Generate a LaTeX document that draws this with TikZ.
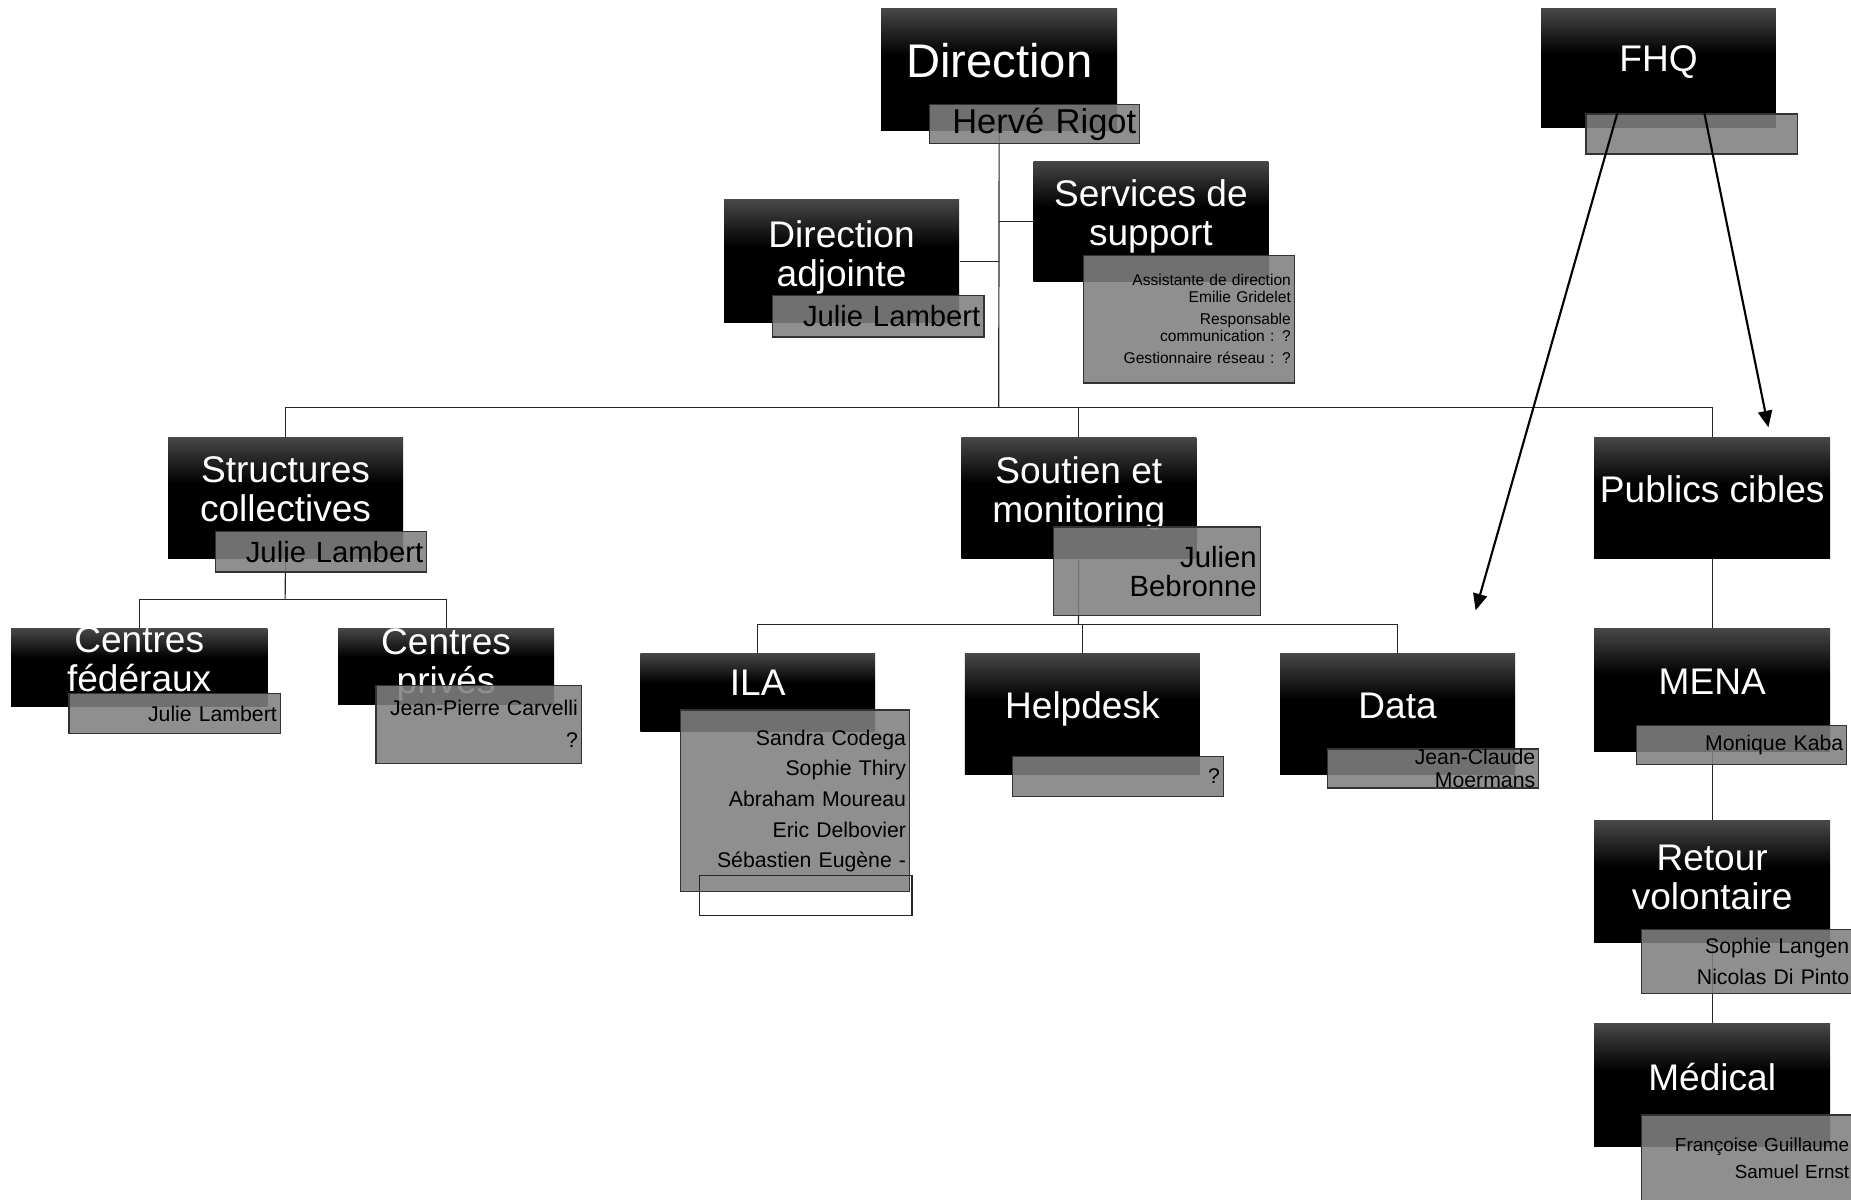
\documentclass[tikz,border=0pt]{standalone}
\usepackage{fontspec}
\setmainfont{Liberation Sans}
\usetikzlibrary{arrows.meta,backgrounds,calc}

\pgfdeclareverticalshading{unitshade}{100bp}{color(0bp)=(black); color(25bp)=(black); color(56bp)=(black); color(75bp)=(black!72); color(100bp)=(black!72)}

\tikzset{
  unit/.style={rectangle, anchor=north west, inner sep=0pt, shade, shading=unitshade},
  title/.style={text=white, align=center, inner sep=0pt, yshift=3.6pt, font=\fontsize{15.7}{16.5}\selectfont},
  who/.style={rectangle, anchor=north west, draw=black!80, line width=0.5pt, fill=gray, fill opacity=0.88, text opacity=1, text=black, inner xsep=1.5pt, inner ysep=0pt, align=right},
  link/.style={line width=0.5pt, black!85},
  fhqarrow/.style={line width=0.9pt, -{Triangle[length=7pt,width=6pt]}},
}

\begin{document}
\begin{tikzpicture}[x=0.5pt,y=-0.5pt]
  \useasboundingbox (0,0) rectangle (1568,1016);

  % top level
  \node[unit, minimum width=100pt, minimum height=51.5pt] (dir) at (746,7) {};
  \node[title, font=\fontsize{20}{22}\selectfont] (dirT) at (dir) {Direction};
  \node[who, text width=86pt, minimum height=16.5pt, font=\fontsize{14.6}{16}\selectfont] (dirN) at (787,88) {Hervé Rigot};

  \node[unit, minimum width=99.5pt, minimum height=50.5pt] (fhq) at (1305,7) {};
  \node[title, yshift=-1pt] (fhqT) at (fhq) {FHQ};
  \node[who, text width=86.5pt, minimum height=17pt] (fhqN) at (1343,96) {};

  \node[unit, minimum width=99.5pt, minimum height=52pt] (adj) at (613,169) {};
  \node[title, yshift=-1.8pt] (adjT) at (adj) {Direction\\adjointe};
  \node[who, text width=86.5pt, minimum height=17.5pt, font=\fontsize{12.4}{14}\selectfont] (adjN) at (654,250) {Julie Lambert};

  \node[unit, minimum width=99.5pt, minimum height=51pt] (supp) at (875,136) {};
  \node[title, yshift=-1.5pt] (suppT) at (supp) {Services de\\support};
  \node[who, text width=86.5pt, minimum height=54pt, font=\fontsize{6.6}{7}\selectfont] (suppN) at (917,216) {Assistante de direction\\Emilie Gridelet\\[2.5pt]Responsable\\communication : ?\\[2.5pt]Gestionnaire réseau : ?};

  % second level
  \node[unit, minimum width=99.5pt, minimum height=51.5pt] (struct) at (142,370) {};
  \node[title] (structT) at (struct) {Structures\\collectives};
  \node[who, text width=86.5pt, minimum height=17pt, font=\fontsize{12.4}{14}\selectfont] (structN) at (182,450) {Julie Lambert};

  \node[unit, minimum width=99.5pt, minimum height=51.5pt] (sout) at (814,370) {};
  \node[title, yshift=-1.5pt] (soutT) at (sout) {Soutien et\\monitoring};
  \node[who, text width=84.5pt, minimum height=37.5pt, font=\fontsize{12.4}{12.5}\selectfont] (soutN) at (892,446) {Julien\\Bebronne};

  \node[unit, minimum width=100pt, minimum height=51.5pt] (pub) at (1350,370) {};
  \node[title] (pubT) at (pub) {Publics cibles};

  % under Structures collectives
  \node[unit, minimum width=108.5pt, minimum height=33pt] (cfed) at (9,532) {};
  \node[title] (cfedT) at (cfed) {Centres\\fédéraux};
  \node[who, text width=86.5pt, minimum height=17pt, font=\fontsize{9}{13}\selectfont] (cfedN) at (58,587) {Julie Lambert};

  \node[unit, minimum width=91.5pt, minimum height=32pt] (cpriv) at (286,532) {};
  \node[title, yshift=-3pt] (cprivT) at (cpriv) {Centres\\privés};
  \node[who, text width=84pt, minimum height=33pt, font=\fontsize{9}{13.5}\selectfont] (cprivN) at (318,580) {Jean-Pierre Carvelli\\?};

  % under Soutien et monitoring
  \node[unit, minimum width=99.5pt, minimum height=33pt] (ila) at (542,553) {};
  \node[title, yshift=0.4pt] (ilaT) at (ila) {ILA};
  \node[who, text width=94pt, minimum height=77pt, font=\fontsize{9}{13}\selectfont] (ilaN) at (576,601) {Sandra Codega\\Sophie Thiry\\Abraham Moureau\\Eric Delbovier\\Sébastien Eugène -};
  \node[rectangle, anchor=north west, draw=black!85, line width=0.5pt, inner sep=0pt, minimum width=90pt, minimum height=17pt] (ilaX) at (592,741) {};

  \node[unit, minimum width=99.5pt, minimum height=51.5pt] (help) at (817,553) {};
  \node[title, yshift=-1.3pt] (helpT) at (help) {Helpdesk};
  \node[who, text width=86.5pt, minimum height=17pt, font=\fontsize{9}{13}\selectfont] (helpN) at (857,640) {?};

  \node[unit, minimum width=99.5pt, minimum height=51.5pt] (data) at (1084,553) {};
  \node[title] (dataT) at (data) {Data};
  \node[who, text width=86.5pt, minimum height=16.5pt, font=\fontsize{9}{9.5}\selectfont] (dataN) at (1124,634) {Jean-Claude\\Moermans};

  % under Publics cibles
  \node[unit, minimum width=100pt, minimum height=52pt] (mena) at (1350,532) {};
  \node[title] (menaT) at (mena) {MENA};
  \node[who, text width=86pt, minimum height=16.5pt, font=\fontsize{9}{13}\selectfont] (menaN) at (1386,614) {Monique Kaba};

  \node[unit, minimum width=100pt, minimum height=51.5pt] (ret) at (1350,695) {};
  \node[title, yshift=-1.6pt] (retT) at (ret) {Retour\\volontaire};
  \node[who, text width=86.5pt, minimum height=27pt, font=\fontsize{9}{13}\selectfont] (retN) at (1390,787) {Sophie Langen\\Nicolas Di Pinto};

  \node[unit, minimum width=100pt, minimum height=52pt] (med) at (1350,867) {};
  \node[title] (medT) at (med) {Médical};
  \node[who, text width=86.5pt, minimum height=37pt, font=\fontsize{8}{11.5}\selectfont] (medN) at (1390,944) {Françoise Guillaume\\Samuel Ernst};

  % connectors
  \begin{scope}[on background layer]
    \fill[white] (0,0) rectangle (1568,1016);
    \coordinate (busA) at (846,345);
    \coordinate (busB) at (241.5,508);
    \coordinate (busC) at (913.5,529);
    \draw[link] (dir.south) -- (busA);
    \draw[link] (adj.east) -- (adj.east -| busA);
    \draw[link] (supp.west) -- (supp.west -| busA);
    \draw[link] (struct.north) |- (busA) -| (pub.north);
    \draw[link] (sout.north) -- (sout.north |- busA);
    \draw[link] (struct.south) -- (busB);
    \draw[link] (cfed.north) |- (busB) -| (cpriv.north);
    \draw[link] (sout.south) -- (busC);
    \draw[link] (ila.north) |- (busC) -| (data.north);
    \draw[link] (help.north) -- (help.north |- busC);
    \draw[link] (pub.south) -- (mena.north);
    \draw[link] (mena.south) -- (ret.north);
    \draw[link] (ret.south) -- (med.north);
  \end{scope}

  % FHQ arrows
  \coordinate (arrL) at (1250,517);
  \coordinate (arrR) at (1498,362);
  \draw[fhqarrow] ($(fhqN.north west)!0.15!(fhqN.north east)$) -- (arrL);
  \draw[fhqarrow] ($(fhqN.north west)!0.56!(fhqN.north east)$) -- (arrR);
\end{tikzpicture}
\end{document}
